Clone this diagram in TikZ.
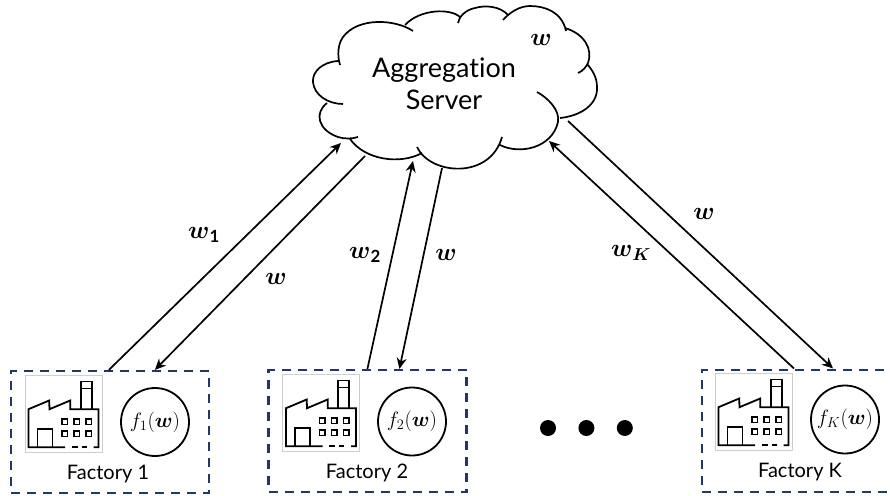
\documentclass[tikz,border=0pt]{standalone}
\usepackage{fontspec}
\usepackage{amsmath}
\setmainfont[Ligatures=NoCommon]{Lato}
\usetikzlibrary{arrows.meta,calc,positioning}
\definecolor{boxColor}{RGB}{32,56,100}
\definecolor{iconFrame}{RGB}{205,205,205}
\tikzset{factorybox/.style={draw=boxColor, line width=2.2pt, dash pattern=on 9pt off 7pt, minimum width=198pt, minimum height=122pt, inner sep=0pt}}
\tikzset{lossnode/.style={circle, draw, line width=1.8pt, minimum size=68pt, inner sep=0pt, font=\fontsize{21}{21}\selectfont}}
\tikzset{iconframe/.style={draw=iconFrame, line width=.7pt, minimum width=77pt, minimum height=77pt, inner sep=0pt}}
\tikzset{caption/.style={font=\fontsize{20}{24}\selectfont}}
\tikzset{weight/.style={font=\fontsize{24}{24}\selectfont}}
\tikzset{dotnode/.style={circle, fill=black, minimum size=16pt, inner sep=0pt}}
\tikzstyle{arrow} = [line width=1.7pt, -{Stealth[length=11pt,width=10pt]}]
\newcommand{\wvec}{\boldsymbol{w}}
% factory drawing, origin at the middle of the frame
\newcommand{\factoryicon}[1]{
	\begin{scope}[shift={(#1)}, line width=1.8pt, x=1pt, y=-1pt]
		\draw (1.7,33.7) -- (-35,33.7) -- (-35,-4.3) -- (-14.3,-13) -- (-14,-4.3) -- (6.7,-13) -- (6.7,-4.3) -- (35,-4.3) -- (35,33.7) -- (30,33.7);
		\draw (17.3,-4.3) -- (17.3,-32) -- (28.3,-32) -- (28.3,-4.3) (17.3,-25) -- (28.3,-25);
		\draw (-26,33.7) -- (-26,15.7) -- (-11,15.7) -- (-11,33.7);
		\draw (8.3,33.7) -- (14,33.7) (18,33.7) -- (23,33.7);
		\foreach \col in {-1.7,10.7,22.3} \foreach \row in {5.7,17.5}
			\draw [line width=1.5pt] (\col,\row) rectangle ++(5.5,5.5);
	\end{scope}
}
\begin{document}
\begin{tikzpicture}[x=1pt, y=-1pt, node distance=1.0cm and 1.85cm]
	\useasboundingbox (0,0) rectangle (890,495);
	% Cloud
	\draw [line width=1.7pt]
		(413,31) .. controls (395,19) and (358,17) .. (343,37) .. controls (338,44) and (337,55) .. (340,65)
		(338,61) .. controls (322,62) and (312,72) .. (313,82) .. controls (314,95) and (328,104) .. (343,104)
		(327,103) .. controls (314,113) and (318,130) .. (338,137) .. controls (344,139) and (352,139) .. (358,137)
		(350,139) .. controls (365,160) and (400,165) .. (422,153)
		(417,147) .. controls (430,175) and (490,180) .. (502,137)
		(500,145) .. controls (520,155) and (552,148) .. (558,122) .. controls (560,110) and (548,98) .. (537,92)
		(560,118) .. controls (580,116) and (598,105) .. (597,87) .. controls (597,77) and (592,70) .. (588,65)
		(588,63) .. controls (593,50) and (585,34) .. (565,28)
		(588,63) .. controls (586,67) and (583,71) .. (578,73)
		(566,31) .. controls (562,12) and (545,6) .. (530,6) .. controls (520,6) and (510,12) .. (503,20)
		(508,15) .. controls (500,6) and (485,5) .. (475,8) .. controls (465,10) and (459,17) .. (458,23)
		(460,17) .. controls (450,8) and (420,9) .. (405,25);
	\node (server) [align=center, font=\fontsize{27}{32}\selectfont] at (444,84) {Aggregation\\Server};
	\node (wcloud) [weight] at (541,40) {$\wvec$};
	% Factories
	\node (factoryA) [factorybox] at (110,432) {};
	\node (factoryB) [factorybox] at (367.5,431) {};
	\node (factoryC) [factorybox, anchor=north west] at (701,368.5) {};
	\node (iconA) [iconframe] at (63.5,413.5) {};
	\node (iconB) [iconframe] at (321,412.5) {};
	\node (iconC) [iconframe] at (753.5,411.5) {};
	\factoryicon{63.5,413.5}
	\factoryicon{321,412.5}
	\factoryicon{753.5,411.5}
	\node (lossA) [lossnode] at (155,422) {$f_1(\wvec)$};
	\node (lossB) [lossnode] at (412,421.5) {$f_2(\wvec)$};
	\node (lossC) [lossnode] at (845,419.5) {$f_K(\wvec)$};
	\node (labelA) [caption] at (108,474) {Factory 1};
	\node (labelB) [caption] at (367,473) {Factory 2};
	\node (labelC) [caption] at (800,472) {Factory K};
	\node (dotA) [dotnode] at (548,428) {};
	\node (dotB) [dotnode, right=22pt of dotA] {};
	\node (dotC) [dotnode, right=22pt of dotB] {};
	% Connector ends
	\coordinate (cloudA) at (341,143);
	\coordinate (cloudAout) at (365,156);
	\coordinate (cloudB) at (413,161);
	\coordinate (cloudBout) at (442,168);
	\coordinate (cloudC) at (549,141);
	\coordinate (cloudCout) at (568,121);
	\coordinate (upA) at ($(factoryA.north west)+(99,0)$);
	\coordinate (downA) at ($(factoryA.north west)+(145,0)$);
	\coordinate (upB) at ($(factoryB.north west)+(100,0)$);
	\coordinate (downB) at ($(factoryB.north west)+(132,0)$);
	\coordinate (upC) at ($(factoryC.north west)+(93,0)$);
	\coordinate (downC) at ($(factoryC.north west)+(132,0)$);
	% Connectors
	\draw [arrow] (upA) -- (cloudA);
	\draw [arrow] (cloudAout) -- (downA);
	\draw [arrow] (upB) -- (cloudB);
	\draw [arrow] (cloudBout) -- (downB);
	\draw [arrow] (upC) -- (cloudC);
	\draw [arrow] (cloudCout) -- (downC);
	% Labels
	\node (wA) [weight] at (204,235) {$\wvec_{\mathbf{1}}$};
	\node (wAback) [weight] at (276,279) {$\wvec$};
	\node (wB) [weight] at (365,255) {$\wvec_{\mathbf{2}}$};
	\node (wBback) [weight] at (446,255) {$\wvec$};
	\node (wC) [weight] at (631,253) {$\wvec_{\boldsymbol{K}}$};
	\node (wCback) [weight] at (704,214) {$\wvec$};
\end{tikzpicture}
\end{document}
